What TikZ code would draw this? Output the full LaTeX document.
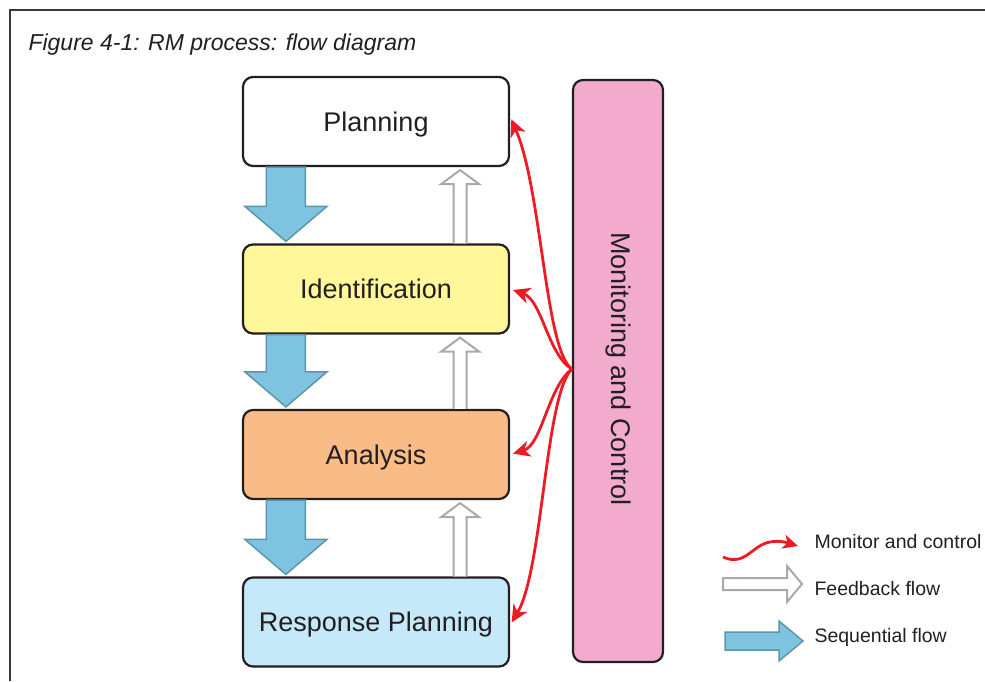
\documentclass[tikz,border=0pt]{standalone}
\usepackage{fontspec}
\setmainfont{Liberation Sans}
\usetikzlibrary{arrows.meta,calc}

\definecolor{ink}{HTML}{231F20}
\definecolor{frameline}{HTML}{3A3A3A}
\definecolor{idfill}{HTML}{FFF799}
\definecolor{anfill}{HTML}{F9BC87}
\definecolor{rpfill}{HTML}{C6E9F9}
\definecolor{mcfill}{HTML}{F2ABCD}
\definecolor{seqfill}{HTML}{7EC4E1}
\definecolor{seqline}{HTML}{5B96AC}
\definecolor{fbline}{HTML}{A7A9AC}
\definecolor{mcred}{HTML}{ED1C24}

\tikzset{
  stage/.style={draw=ink, line width=2.2pt, rounded corners=10pt,
    minimum width=266pt, minimum height=89pt, text=ink, text depth=0pt,
    font=\fontsize{27}{32}\selectfont},
  seqflow/.style={fill=seqfill, draw=seqline, line width=1.5pt, line join=miter},
  fbflow/.style={fill=white, draw=fbline, line width=2pt, line join=miter},
  mcflow/.style={draw=mcred, line width=2.8pt,
    -{Stealth[length=17pt,width=16pt,inset=5pt]}},
  legendtext/.style={anchor=west, text=ink, font=\fontsize{19.5}{23}\selectfont}
}

\begin{document}
\begin{tikzpicture}[x=1pt, y=-1pt]
  \useasboundingbox (0,0) rectangle (985,681);

  % frame and caption
  \draw[frameline, line width=2.5pt] (10,681) -- (10,10) -- (985,10);
  \node[anchor=west, text=ink, font=\fontsize{23}{27}\selectfont\itshape] (cap) at (25,45)
    {Figure 4-1: RM process: flow diagram};

  % process stages
  \node[stage, fill=white]  (pl) at (376,121.5) {Planning};
  \node[stage, fill=idfill] (id) at (376,289)   {Identification};
  \node[stage, fill=anfill] (an) at (376,454.5) {Analysis};
  \node[stage, fill=rpfill] (rp) at (376,622)   {Response Planning};

  % monitoring and control bar
  \node[draw=ink, line width=2.2pt, rounded corners=10pt, fill=mcfill,
    minimum width=90pt, minimum height=582pt] (mc) at (618,371) {};
  \node[rotate=-90, text=ink, font=\fontsize{27}{32}\selectfont] (mclabel) at ([yshift=2pt]mc.center)
    {Monitoring and Control};

  % sequential flow (down) and feedback flow (up)
  \foreach \a/\b in {pl/id, id/an, an/rp} {
    \path ($(\a.south west)+(44,0)$) coordinate (s1)
          ($(\b.north west)+(44,-2)$) coordinate (s2);
    \filldraw[seqflow] ($(s1)+(-19.5,0)$) -- ($(s2)+(-19.5,-35)$) -- ($(s2)+(-41,-35)$)
      -- (s2) -- ($(s2)+(41,-35)$) -- ($(s2)+(19.5,-35)$) -- ($(s1)+(19.5,0)$) -- cycle;
    \path ($(\b.north east)+(-50,0)$) coordinate (f1)
          ($(\a.south east)+(-50,3)$) coordinate (f2);
    \filldraw[fbflow] ($(f1)+(-6.5,0)$) -- ($(f2)+(-6.5,14)$) -- ($(f2)+(-19,14)$)
      -- (f2) -- ($(f2)+(19,14)$) -- ($(f2)+(6.5,14)$) -- ($(f1)+(6.5,0)$);
  }

  % monitor and control links
  \draw[mcflow, shorten >=3pt] ([yshift=2pt]mc.west) .. controls (545,350) and (542,190) .. ([yshift=5pt]pl.east);
  \draw[mcflow, shorten >=3pt] ([yshift=2pt]mc.west) .. controls (548,355) and (542,300) .. (id.east);
  \draw[mcflow, shorten >=3pt] ([yshift=2pt]mc.west) .. controls (548,387) and (542,445) .. (an.east);
  \draw[mcflow, shorten >=3pt] ([yshift=2pt]mc.west) .. controls (545,395) and (543,570) .. ([yshift=-3pt]rp.east);

  % legend
  \draw[mcflow, -{Stealth[length=15pt,width=14pt,inset=4pt]}]
    (723,557) .. controls (745,567) and (752,545) .. (770,542) .. controls (780,540) and (788,543) .. (798,546);
  \node[legendtext] (lmc) at (811,542) {Monitor and control};

  \filldraw[fbflow] (723,578) -- (787,578) -- (787,566) -- (802,584) -- (787,602) -- (787,590) -- (723,590) -- cycle;
  \node[legendtext] (lfb) at (811,589) {Feedback flow};

  \filldraw[seqflow] (725,632) -- (779,632) -- (779,621) -- (803,641) -- (779,661) -- (779,650) -- (725,650) -- cycle;
  \node[legendtext] (lsq) at (811,637) {Sequential flow};
\end{tikzpicture}
\end{document}
